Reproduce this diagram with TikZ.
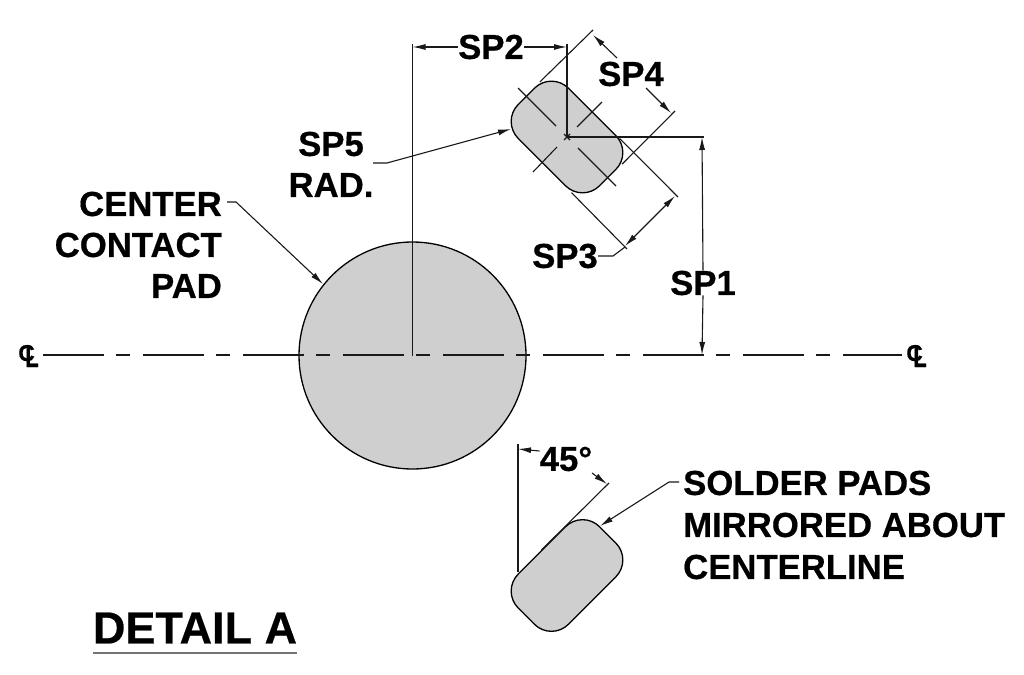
\documentclass[tikz,border=0pt]{standalone}
\usepackage{graphicx}
\usepackage{fontspec}
\setmainfont{Liberation Sans}[BoldFeatures={FakeBold=0.5}]
\usetikzlibrary{positioning, arrows.meta}
\tikzset{
	thinline/.style={line width=1.1pt, black!90},
	padshape/.style={draw, line width=1.3pt, fill=black!19, inner sep=0pt, minimum width=115pt, minimum height=71pt, rounded corners=24pt},
	dimtext/.style={font=\bfseries\fontsize{34.7}{35}\selectfont, inner sep=0pt},
	arrowline/.style={thinline, -{Latex[length=13pt, width=6pt]}},
}
\newcommand{\clmark}{{\bfseries\fontsize{23}{23}\selectfont\rlap{C}\kern7pt\raisebox{-6pt}{\scalebox{0.95}[1.3]{L}}}}
\begin{document}
\begin{tikzpicture}[x=1pt, y=-1pt]
	\useasboundingbox (0,0) rectangle (1024,674);
	% pads and contact
	\node[draw, line width=1.3pt, fill=black!19, circle, inner sep=0pt, minimum size=227pt] (contact) at (412.5,355.5) {};
	\node[padshape, rotate=-45] (padA) at (567,137) {};
	\node[padshape, rotate=45] (padB) at (567,575.5) {};
	% centerline
	\node[inner sep=0pt] (clleft) at (28.5,356) {\clmark};
	\node[inner sep=0pt] (clright) at (916.5,356) {\clmark};
	\coordinate (clstart) at (43,355);
	\coordinate (clend) at (902,355);
	\draw[thinline, dash pattern=on 61pt off 12pt on 14pt off 13pt] (clstart) -- (clend);
	% center marks
	\draw[thinline] (518,88) -- (556,126);
	\draw[thinline] (578,148) -- (616,186);
	\draw[thinline] (602,102) -- (577,127);
	\draw[thinline] (557,147) -- (533,172);
	\draw[thinline] (564,134) -- (570,140);
	\draw[thinline] (570,134) -- (564,140);
	% labels
	\node[dimtext] (sp2) at (491,47) {SP2};
	\node[dimtext] (sp4) at (631,74) {SP4};
	\node[dimtext] (sp3) at (565,256) {SP3};
	\node[dimtext] (sp1) at (703,283) {SP1};
	\node[dimtext] (sp5) at (331,144) {SP5};
	\node[dimtext] (rad) at (331,185) {RAD.};
	\node[dimtext, anchor=east] (center) at (222,204) {CENTER};
	\node[dimtext, anchor=east] (contacttxt) at (222,245) {CONTACT};
	\node[dimtext, anchor=east] (padtxt) at (222,286) {PAD};
	\node[dimtext] (angle) at (566,459) {45°};
	\node[dimtext, anchor=west] (solder) at (683,483) {SOLDER PADS};
	\node[dimtext, anchor=west] (mirrored) at (683,525) {MIRRORED ABOUT};
	\node[dimtext, anchor=west] (cline) at (683,567) {CENTERLINE};
	\node[font=\bfseries\fontsize{45}{45}\selectfont, inner sep=0pt] (detail) at (195,628) {DETAIL A};
	\draw[line width=2pt, black!55] (93,652.5) -- (297,652.5);
	% extension lines
	\coordinate (extleft) at (412.5,44);
	\coordinate (extmid) at (567,44);
	\coordinate (sp1top) at (704,137);
	\coordinate (sp4a) at (593,30);
	\coordinate (sp4b) at (675,111);
	\coordinate (sp3a) at (678,197);
	\coordinate (sp3b) at (627,249);
	\draw[thinline] (contact.center) -- (extleft);
	\draw[thinline] (padA.center) -- (extmid);
	\draw[thinline] (padA.center) -- (sp1top);
	\draw[thinline] (padA.west) ++(14,-14) -- (sp4a);
	\draw[thinline] (padA.east) ++(14,-14) -- (sp4b);
	\draw[thinline] (padA.north) ++(27,27) -- (sp3a);
	\draw[thinline] (padA.south) ++(30,30) -- (sp3b);
	% dimensions
	\draw[arrowline] (sp2.west) -- (412.5,47);
	\draw[arrowline] (sp2.east) -- (567,47);
	\draw[arrowline] (sp1.north) -- (702,137);
	\draw[arrowline] (sp1.south) -- (702,355);
	\draw[arrowline] (617,58) -- (593,35);
	\draw[arrowline] (646,88) -- (671,113);
	\draw[arrowline] (650,221) -- (675,196);
	\draw[arrowline] (650,221) -- (625,246);
	\draw[thinline] (sp3.east) -- (613,256) -- (625,247);
	% leaders
	\draw[arrowline] (373,163) -- (387,163) -- (511,129);
	\draw[arrowline] (227,202) -- (236,202) -- (323,284);
	\draw[arrowline] (679,482) -- (669,482) -- (600,526);
	% angle
	\coordinate (angtop) at (518,444);
	\coordinate (angtip) at (609,483);
	\draw[thinline] (518,572) -- (angtop);
	\draw[thinline] (padB.north) -- (angtip);
	\draw[arrowline] (angle.west |- 0,451) -- (518,449);
	\draw[arrowline] (592,473) -- (607,484);
\end{tikzpicture}
\end{document}
